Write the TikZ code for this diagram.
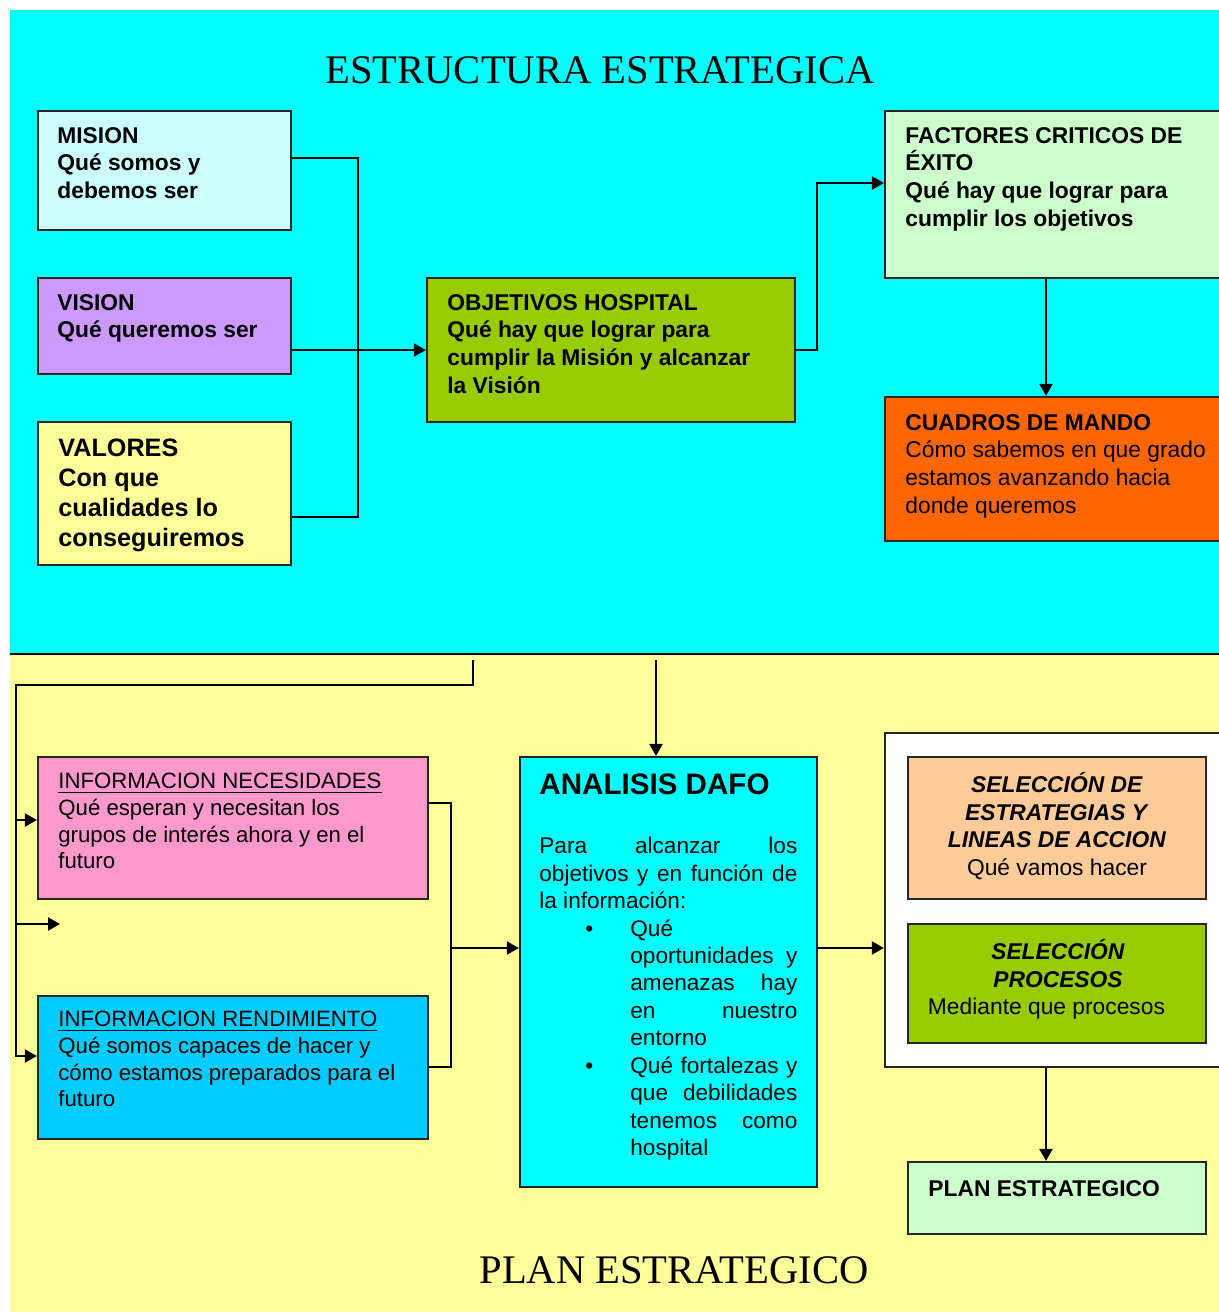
\documentclass[tikz,border=0pt]{standalone}
\usepackage{fontspec}
\setmainfont{Liberation Sans}
\newfontfamily\titlefont{Liberation Serif}
\usetikzlibrary{arrows.meta,fit}

\definecolor{cyanbg}{HTML}{00FFFF}
\definecolor{yellowbg}{HTML}{FFFF99}
\definecolor{misionfill}{HTML}{CCFFFF}
\definecolor{visionfill}{HTML}{CC99FF}
\definecolor{valoresfill}{HTML}{FFFF99}
\definecolor{olivefill}{HTML}{99CC00}
\definecolor{mintfill}{HTML}{CCFFCC}
\definecolor{orangefill}{HTML}{FF6600}
\definecolor{pinkfill}{HTML}{FF99CC}
\definecolor{bluefill}{HTML}{00CCFF}
\definecolor{peachfill}{HTML}{FFCC99}

\newcommand\boxfont{\fontsize{11.4}{13.8}\selectfont}
\newcommand\valfont{\fontsize{12.6}{15}\selectfont}
\newcommand\infofont{\fontsize{11.1}{13.3}\selectfont}
\newcommand\dafofont{\fontsize{11.3}{13.72}\selectfont}
\newcommand\headfont{\titlefont\fontsize{20.3}{24}\selectfont}

\begin{document}
\begin{tikzpicture}[x=0.5pt,y=-0.5pt,
  panel/.style={draw=black!85,line width=1.1pt,inner sep=0pt},
  conn/.style={draw=black,line width=1.1pt},
  arr/.style={conn,-{Triangle[length=6pt,width=6.5pt]}},
  txt/.style={anchor=north west,inner sep=0pt,align=left},
  ctxt/.style={anchor=north,inner sep=0pt,align=center},
]
\useasboundingbox (0,0) rectangle (1219,1314);
\clip (0,0) rectangle (1219,1314);

% backgrounds of the two sections
\fill[white] (0,0) rectangle (1219,1314);
\fill[cyanbg] (10,10) rectangle (1219,654);
\fill[yellowbg] (10,654) rectangle (1219,1312);
\draw[line width=0.8pt] (10,654) -- (1219,654);

% section titles
\node[font=\headfont,inner sep=0pt] (ttop) at (600,70) {ESTRUCTURA ESTRATEGICA};
\node[font=\headfont,inner sep=0pt] (tbot) at (674,1270) {PLAN ESTRATEGICO};

% ---------- upper section: boxes ----------
\node[panel,fill=misionfill,fit={(38,111) (291,230)}] (mision) {};
\node[panel,fill=visionfill,fit={(38,278) (291,374)}] (vision) {};
\node[panel,fill=valoresfill,fit={(38,422) (291,565)}] (valores) {};
\node[panel,fill=olivefill,fit={(427,278) (795,422)}] (objetivos) {};
\node[panel,fill=mintfill,fit={(885,111) (1228,278)}] (factores) {};
\node[panel,fill=orangefill,fit={(885,397) (1228,541)}] (cuadros) {};

\node[txt,font=\boxfont\bfseries] (tmision) at (57,127) {MISION\\Qué somos y\\debemos ser};
\node[txt,font=\boxfont\bfseries] (tvision) at (57,294) {VISION\\Qué queremos ser};
\node[txt,font=\valfont\bfseries] (tvalores) at (58,438) {VALORES\\Con que\\cualidades lo\\conseguiremos};
\node[txt,font=\boxfont\bfseries] (tobjetivos) at (447,294) {OBJETIVOS HOSPITAL\\Qué hay que lograr para\\cumplir la Misión y alcanzar\\la Visión};
\node[txt,font=\boxfont\bfseries] (tfactores) at (905,127) {FACTORES CRITICOS DE\\ÉXITO\\Qué hay que lograr para\\cumplir los objetivos};
\node[txt,font=\boxfont] (tcuadros) at (905,414) {\textbf{CUADROS DE MANDO}\\Cómo sabemos en que grado\\estamos avanzando hacia\\donde queremos};

% ---------- upper section: connectors ----------
\coordinate (j1) at (358,158);
\coordinate (j2) at (358,517);
\coordinate (k1) at (817,183);
\coordinate (vx) at (1046,0);
\draw[conn] (mision.east |- j1) -- (j1) -- (j2) -- (valores.east |- j2);
\draw[arr] (vision.east |- objetivos.west) -- (objetivos.west);
\draw[arr] (objetivos.east) -| (k1) -- (factores.west |- k1);
\draw[arr] (factores.south -| vx) -- (cuadros.north -| vx);

% ---------- lower section: boxes ----------
\node[panel,fill=pinkfill,fit={(38,757) (428,899)}] (necesidades) {};
\node[panel,fill=bluefill,fit={(38,996) (428,1139)}] (rendimiento) {};
\node[panel,fill=cyanbg,fit={(520,757) (817,1187)}] (dafo) {};
\node[panel,fill=white,fit={(885,733) (1228,1067)}] (seleccion) {};
\node[panel,fill=peachfill,fit={(908,757) (1206,899)}] (estrategias) {};
\node[panel,fill=olivefill,fit={(908,924) (1206,1043)}] (procesos) {};
\node[panel,fill=mintfill,fit={(908,1162) (1206,1234)}] (plan) {};

\node[txt,font=\infofont] (tnecesidades) at (58,773)
  {\underline{INFORMACION NECESIDADES}\\Qué esperan y necesitan los\\grupos de interés ahora y en el\\futuro};
\node[txt,font=\infofont] (trendimiento) at (58,1011)
  {\underline{INFORMACION RENDIMIENTO}\\Qué somos capaces de hacer y\\cómo estamos preparados para el\\futuro};

\node[txt,font=\fontsize{14.8}{17}\selectfont\bfseries] (tdafo) at (539,773) {ANALISIS DAFO};
\node[txt,font=\dafofont] (tdafobody) at (539,837) {%
  \makebox[129pt][s]{Para alcanzar los}\\
  \makebox[129pt][s]{objetivos y en función de}\\
  la información:\\
  \hspace*{23pt}\makebox[22.5pt][l]{\textbullet}Qué\\
  \hspace*{45.5pt}\makebox[83.5pt][s]{oportunidades y}\\
  \hspace*{45.5pt}\makebox[83.5pt][s]{amenazas hay}\\
  \hspace*{45.5pt}\makebox[83.5pt][s]{en nuestro}\\
  \hspace*{45.5pt}entorno\\
  \hspace*{23pt}\makebox[22.5pt][l]{\textbullet}\makebox[83.5pt][s]{Qué fortalezas y}\\
  \hspace*{45.5pt}\makebox[83.5pt][s]{que debilidades}\\
  \hspace*{45.5pt}\makebox[83.5pt][s]{tenemos como}\\
  \hspace*{45.5pt}hospital};

\node[ctxt,font=\boxfont] (testrategias) at (1057,772)
  {\textbf{\textit{SELECCIÓN DE}}\\\textbf{\textit{ESTRATEGIAS Y}}\\\textbf{\textit{LINEAS DE ACCION}}\\Qué vamos hacer};
\node[ctxt,font=\boxfont] (tprocesos) at (1058,939)
  {\textbf{\textit{SELECCIÓN}}\\\textbf{\textit{PROCESOS}}\\Mediante que procesos\hspace*{11.5pt}};
\node[txt,font=\boxfont\bfseries] (tplan) at (928,1180) {PLAN ESTRATEGICO};

% ---------- lower section: connectors ----------
\coordinate (f0) at (473,660);
\coordinate (f1) at (16,685);
\coordinate (ya) at (0,1056);
\coordinate (yb) at (0,820);
\coordinate (freeend) at (60,924);
\coordinate (f2) at (656,660);
\coordinate (m1) at (451,803);
\coordinate (m2) at (451,1067);
\coordinate (m3) at (0,948);

\draw[arr] (f0) |- (f1) |- (rendimiento.west |- ya);
\draw[arr] (f1 |- yb) -- (necesidades.west |- yb);
\draw[arr] (f1 |- freeend) -- (freeend);
\draw[arr] (f2) -- (dafo.north -| f2);
\draw[conn] (necesidades.east |- m1) -- (m1) -- (m2) -- (rendimiento.east |- m2);
\draw[arr] (m1 |- m3) -- (dafo.west |- m3);
\draw[arr] (dafo.east |- m3) -- (seleccion.west |- m3);
\draw[arr] (seleccion.south -| vx) -- (plan.north -| vx);
\end{tikzpicture}
\end{document}
